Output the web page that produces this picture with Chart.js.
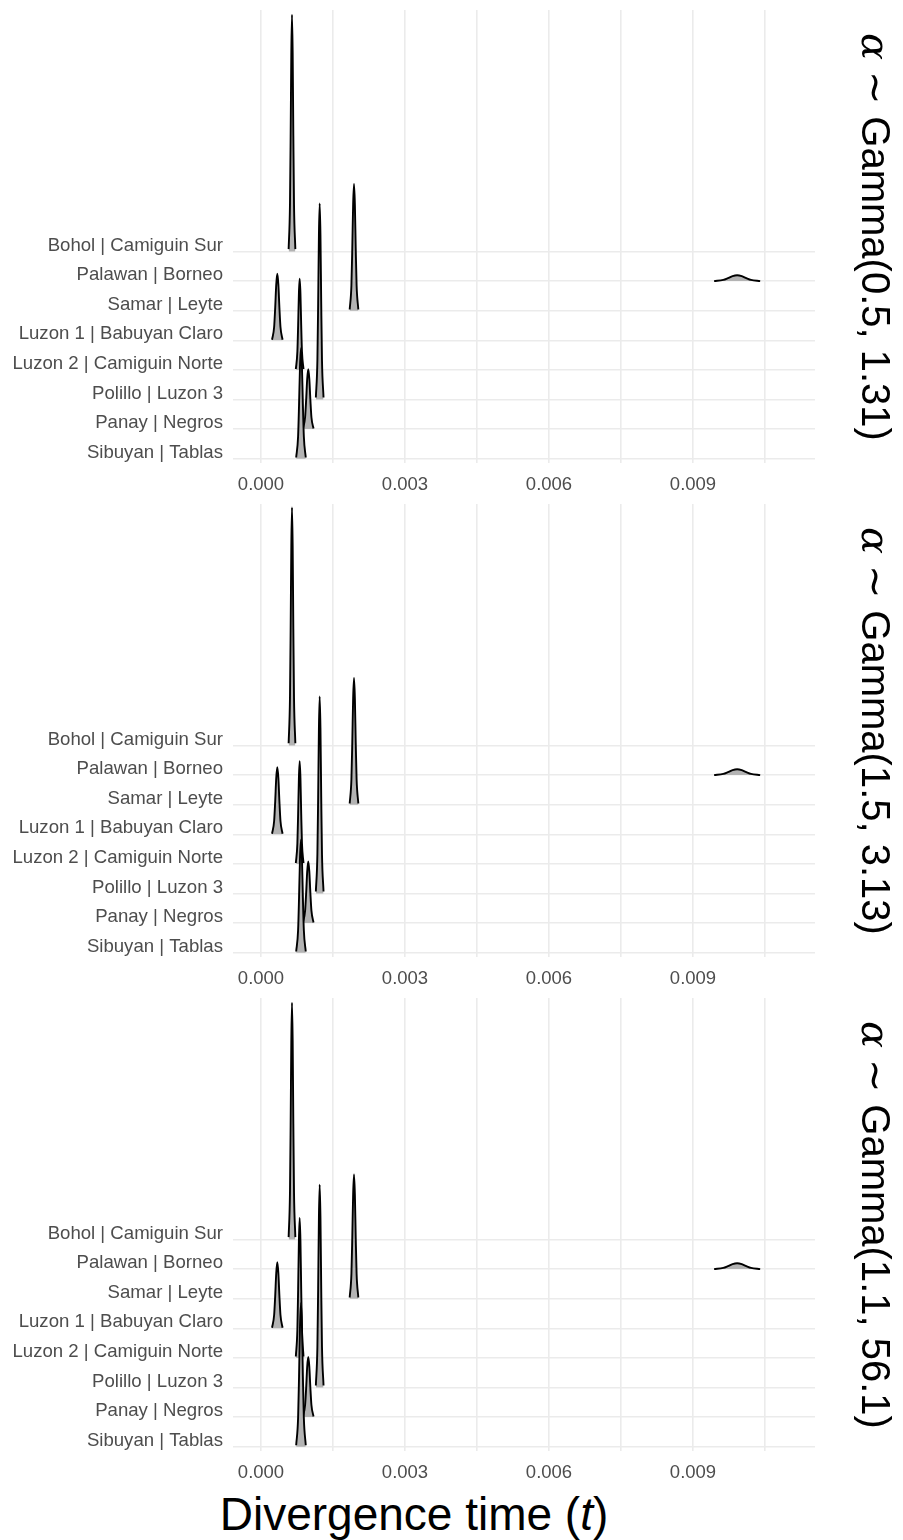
<!DOCTYPE html>
<html><head><meta charset="utf-8">
<script src="https://cdn.jsdelivr.net/npm/chart.js@4.4.1/dist/chart.umd.min.js"></script>
<style>
html,body{margin:0;padding:0;background:#fff;}
body{width:903px;height:1540px;position:relative;overflow:hidden;font-family:"Liberation Sans",Arial,sans-serif;}
.panel{position:absolute;left:0;width:903px;height:494px;}
.strip{position:absolute;width:453px;height:48px;line-height:48px;text-align:center;font-size:40px;color:#000;transform:rotate(90deg);white-space:nowrap;font-family:"Liberation Sans",Arial,sans-serif;}
.alpha{font-family:"DejaVu Serif","Liberation Serif",serif;font-style:italic;}
#xtitle{position:absolute;left:0;width:828px;top:1487px;text-align:center;font-size:46px;line-height:54px;color:#000;white-space:nowrap;}
</style></head>
<body>
<div class="panel" style="top:0px"><canvas id="c0" width="903" height="494"></canvas></div>
<div class="panel" style="top:494px"><canvas id="c1" width="903" height="494"></canvas></div>
<div class="panel" style="top:988px"><canvas id="c2" width="903" height="494"></canvas></div>
<div id="xtitle">Divergence time (<i>t</i>)</div>
<script>
// ---- data ----
const rowLabels = ['Bohol | Camiguin Sur','Palawan | Borneo','Samar | Leyte','Luzon 1 | Babuyan Claro','Luzon 2 | Camiguin Norte','Polillo | Luzon 3','Panay | Negros','Sibuyan | Tablas'];
const stripLabels = ['Gamma(0.5, 1.31)','Gamma(1.5, 3.13)','Gamma(1.1, 56.1)'];
const xTickValues = [0, 0.003, 0.006, 0.009];
const xTickLabels = ['0.000','0.003','0.006','0.009'];
const xMinorTicks = [0.0015, 0.0045, 0.0075, 0.0105];

// divergence-time grid of each ridge
const tBohol   = [0.000576,0.000604,0.000618,0.000632,0.000646,0.000660,0.000674,0.000688,0.000716];
const tPalawan = [0.00944,0.009632,0.009728,0.009824,0.00992,0.010016,0.010112,0.010208,0.0104];
const tSamar   = [0.001848,0.001884,0.001902,0.00192,0.001938,0.001956,0.001974,0.001992,0.002028];
const tLuzon1  = [0.00023,0.000274,0.000296,0.000318,0.00034,0.000362,0.000384,0.000406,0.00045];
const tLuzon2  = [0.000726,0.000758,0.000774,0.00079,0.000806,0.000822,0.000838,0.000854,0.000886];
const tPolillo = [0.001143,0.001175,0.001191,0.001207,0.001223,0.001239,0.001255,0.001271,0.001303];
const tPanay   = [0.000875,0.000919,0.000941,0.000963,0.000985,0.001007,0.001029,0.001051,0.001095];
const tSibuyan = [0.000733,0.000773,0.000793,0.000813,0.000833,0.000853,0.000873,0.000893,0.000933];

// scaled density heights (in row units), panel 1: alpha ~ Gamma(0.5, 1.31)
const p1Bohol   = [0.08,1.60,3.92,6.72,8.00,6.72,3.92,1.60,0.08];
const p1Palawan = [0.00,0.04,0.10,0.17,0.20,0.17,0.10,0.04,0.00];
const p1Samar   = [0.04,0.86,2.10,3.60,4.28,3.60,2.10,0.86,0.04];
const p1Luzon1  = [0.02,0.45,1.10,1.89,2.25,1.89,1.10,0.45,0.02];
const p1Luzon2  = [0.03,0.62,1.51,2.59,3.08,2.59,1.51,0.62,0.03];
const p1Polillo = [0.07,1.32,3.24,5.56,6.62,5.56,3.24,1.32,0.07];
const p1Panay   = [0.02,0.40,0.99,1.70,2.02,1.70,0.99,0.40,0.02];
const p1Sibuyan = [0.04,0.75,1.83,3.13,3.73,3.13,1.83,0.75,0.04];
// panel 2: alpha ~ Gamma(1.5, 3.13)
const p2Bohol   = [0.08,1.61,3.94,6.75,8.04,6.75,3.94,1.61,0.08];
const p2Palawan = [0.00,0.04,0.10,0.17,0.20,0.17,0.10,0.04,0.00];
const p2Samar   = [0.04,0.86,2.10,3.60,4.28,3.60,2.10,0.86,0.04];
const p2Luzon1  = [0.02,0.45,1.11,1.91,2.27,1.91,1.11,0.45,0.02];
const p2Luzon2  = [0.03,0.69,1.70,2.91,3.47,2.91,1.70,0.69,0.03];
const p2Polillo = [0.07,1.33,3.26,5.59,6.66,5.59,3.26,1.33,0.07];
const p2Panay   = [0.02,0.42,1.02,1.75,2.08,1.75,1.02,0.42,0.02];
const p2Sibuyan = [0.04,0.76,1.87,3.21,3.82,3.21,1.87,0.76,0.04];
// panel 3: alpha ~ Gamma(1.1, 56.1)
const p3Bohol   = [0.08,1.60,3.92,6.72,8.00,6.72,3.92,1.60,0.08];
const p3Palawan = [0.00,0.04,0.10,0.17,0.20,0.17,0.10,0.04,0.00];
const p3Samar   = [0.04,0.84,2.06,3.53,4.20,3.53,2.06,0.84,0.04];
const p3Luzon1  = [0.02,0.45,1.09,1.87,2.23,1.87,1.09,0.45,0.02];
const p3Luzon2  = [0.05,0.95,2.32,3.97,4.73,3.97,2.32,0.95,0.05];
const p3Polillo = [0.07,1.37,3.36,5.75,6.85,5.75,3.36,1.37,0.07];
const p3Panay   = [0.02,0.41,0.99,1.71,2.03,1.71,0.99,0.41,0.02];
const p3Sibuyan = [0.05,0.97,2.38,4.08,4.86,4.08,2.38,0.97,0.05];

const tRows = [tBohol,tPalawan,tSamar,tLuzon1,tLuzon2,tPolillo,tPanay,tSibuyan];
const panels = [
  [p1Bohol,p1Palawan,p1Samar,p1Luzon1,p1Luzon2,p1Polillo,p1Panay,p1Sibuyan],
  [p2Bohol,p2Palawan,p2Samar,p2Luzon1,p2Luzon2,p2Polillo,p2Panay,p2Sibuyan],
  [p3Bohol,p3Palawan,p3Samar,p3Luzon1,p3Luzon2,p3Polillo,p3Panay,p3Sibuyan]
];

// ---- drawing ----
Chart.defaults.font.family = '"Liberation Sans", Arial, sans-serif';
const nRows = rowLabels.length;
const allXTicks = xTickValues.concat(xMinorTicks).sort((a,b)=>a-b);

function makeChart(canvasId, dens) {
  const datasets = [];
  // bottom row first so it is drawn on top
  for (let i = nRows - 1; i >= 0; i--) {
    const base = nRows - i;
    datasets.push({
      label: rowLabels[i],
      data: tRows[i].map((t, k) => ({x: t, y: base + dens[i][k]})),
      borderColor: '#000',
      borderWidth: 1.9,
      backgroundColor: '#b3b3b3',
      fill: {value: base},
      pointRadius: 0,
      cubicInterpolationMode: 'monotone'
    });
  }
  return new Chart(document.getElementById(canvasId), {
    type: 'line',
    data: {datasets},
    options: {
      responsive: false,
      animation: false,
      devicePixelRatio: 1,
      layout: {padding: {top: 10, right: 88, left: 0, bottom: 0}},
      plugins: {legend: {display: false}, tooltip: {enabled: false}},
      scales: {
        x: {
          type: 'linear',
          min: -0.000583,
          max: 0.011542,
          afterBuildTicks: s => { s.ticks = allXTicks.map(v => ({value: v})); },
          afterFit: s => { s.height = 31; s.paddingLeft = 0; s.paddingRight = 0; },
          border: {display: false},
          grid: {color: '#ebebeb', lineWidth: 1.6, drawTicks: false},
          ticks: {
            autoSkip: false, maxRotation: 0, padding: 11,
            color: '#4d4d4d', font: {size: 18.5},
            callback: v => { const i = xTickValues.findIndex(q => Math.abs(q - v) < 1e-9); return i >= 0 ? xTickLabels[i] : ''; }
          }
        },
        y: {
          type: 'linear',
          min: 0.855,
          max: 16.16,
          afterBuildTicks: s => { s.ticks = rowLabels.map((l, i) => ({value: nRows - i})); },
          afterFit: s => { s.width = 233; s.paddingTop = 0; s.paddingBottom = 0; },
          border: {display: false},
          grid: {color: '#ebebeb', lineWidth: 1.6, drawTicks: false},
          ticks: {
            autoSkip: false, padding: 10, labelOffset: -6,
            color: '#4d4d4d', font: {size: 18.6},
            callback: v => rowLabels[nRows - v]
          }
        }
      }
    }
  });
}

panels.forEach((p, i) => {
  makeChart('c' + i, p);
  const d = document.createElement('div');
  d.className = 'strip';
  const cy = i * 494 + 236.5;
  d.style.left = (875 - 226.5) + 'px';
  d.style.top = (cy - 24) + 'px';
  d.innerHTML = '<span class="alpha">α</span> ∼ ' + stripLabels[i];
  document.body.appendChild(d);
});
</script>
</body></html>
